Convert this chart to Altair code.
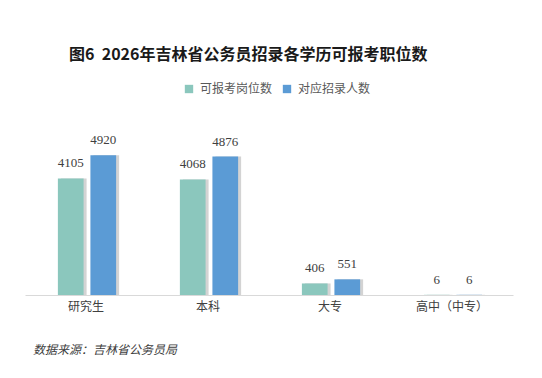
import altair as alt
import pandas as pd

categories = ["研究生", "本科", "大专", "高中（中专）"]
series = ["可报考岗位数", "对应招录人数"]
positions = [4105, 4068, 406, 6]
recruits = [4920, 4876, 551, 6]
colors = ["#8BC7BD", "#5B9BD5"]

rows = []
for c, p, r in zip(categories, positions, recruits):
    rows.append({"cat": c, "series": series[0], "value": p})
    rows.append({"cat": c, "series": series[1], "value": r})
df = pd.DataFrame(rows)

x = alt.X("cat:N", sort=categories, title=None,
          scale=alt.Scale(paddingInner=0, paddingOuter=0),
          axis=alt.Axis(labelAngle=0, ticks=False, domainColor="#d9d9d9",
                        labelFont="Noto Sans CJK SC", labelFontSize=12,
                        labelColor="#404040", labelPadding=6))
xo = alt.XOffset("series:N", sort=series,
                 scale=alt.Scale(paddingInner=0.21, paddingOuter=0.98, range=[1, 123]))
xo_sh = alt.XOffset("series:N", sort=series,
                    scale=alt.Scale(paddingInner=0.21, paddingOuter=0.98, range=[4, 126]))
y = alt.Y("value:Q", scale=alt.Scale(domain=[0, 5000]), axis=None)
color = alt.Color("series:N", sort=series,
                  scale=alt.Scale(domain=series, range=colors),
                  legend=alt.Legend(title=None, orient="none", direction="horizontal",
                                    legendX=158, legendY=-70, symbolType="square",
                                    symbolSize=70, symbolStrokeWidth=0,
                                    labelFont="Noto Sans CJK SC", labelFontSize=12,
                                    labelColor="#595959", columnPadding=8,
                                    labelOffset=5))

base = alt.Chart(df)
shadow = base.mark_bar(color="#b5b5b5", opacity=0.6).encode(x=x, xOffset=xo_sh, y=y)
bars = base.mark_bar(minBandSize=0).encode(x=x, xOffset=xo, y=y, color=color)
labels = base.mark_text(dy=-11, baseline="alphabetic", font="Liberation Serif",
                        fontSize=13, color="#404040").encode(
    x=x, xOffset=xo, y=y, text="value:Q")

source_text = ["数据来源：吉林省公务员局"]
src = alt.Chart(pd.DataFrame({"t": source_text})).mark_text(
    align="left", baseline="middle", font="Noto Sans CJK SC", fontSize=12,
    fontStyle="italic", color="#404040").encode(
    x=alt.value(8), y=alt.value(197), text="t:N")

chart = alt.layer(shadow, alt.layer(bars, labels), src).resolve_scale(
    xOffset="independent"
).properties(
    width=488, height=142,
    autosize=alt.AutoSizeParams(type="none"),
    padding={"left": 25, "top": 153, "right": 29, "bottom": 83},
    background="white",
    title=alt.TitleParams("图6\u00a0\u00a02026年吉林省公务员招录各学历可报考职位数",
                          anchor="start", dx=44, offset=20,
                          font="Noto Sans CJK SC", fontSize=16, fontWeight="bold",
                          color="#1a1a1a"),
).configure_view(stroke=None)

chart.save("out.html", embed_options={"renderer": "svg", "actions": False})
